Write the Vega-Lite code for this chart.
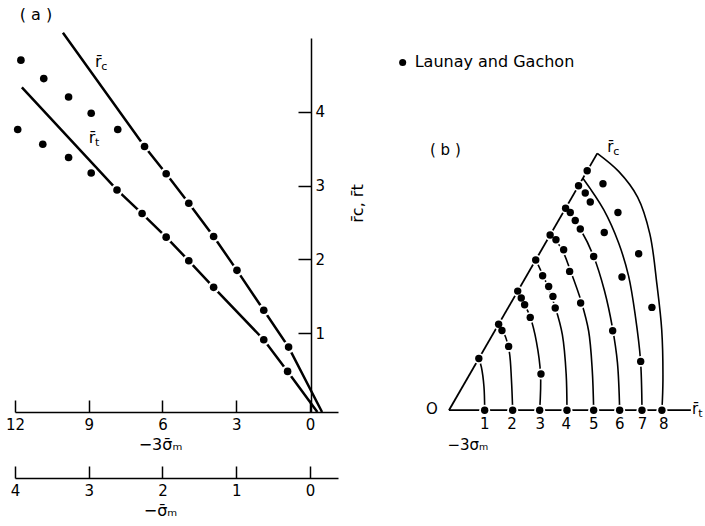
{
  "$schema": "https://vega.github.io/schema/vega-lite/v6.json",
  "padding": {"left": 5, "top": 7, "right": 0, "bottom": 0},
  "bounds": "flush",
  "spacing": 44,
  "config": {
    "view": {"stroke": null},
    "font": "DejaVu Sans",
    "text": {"font": "DejaVu Sans", "fontSize": 15, "color": "black"},
    "axis": {
      "domainColor": "black", "tickColor": "black", "labelColor": "black", "titleColor": "black",
      "domainWidth": 1.5, "tickWidth": 1.5, "grid": false,
      "labelFont": "DejaVu Sans", "titleFont": "DejaVu Sans",
      "labelFontSize": 15, "titleFontSize": 16, "titleFontWeight": "normal",
      "labelFlush": false, "labelOverlap": false
    }
  },
  "datasets": {
    "a_lines": [
      {"line": "c", "k": 0, "s3": 10.05, "r": 5.07},
      {"line": "c", "k": 1, "s3": 6.73, "r": 3.53},
      {"line": "c", "k": 2, "s3": 5.85, "r": 3.16},
      {"line": "c", "k": 3, "s3": 4.93, "r": 2.76},
      {"line": "c", "k": 4, "s3": 3.92, "r": 2.31},
      {"line": "c", "k": 5, "s3": 2.97, "r": 1.85},
      {"line": "c", "k": 6, "s3": 1.88, "r": 1.31},
      {"line": "c", "k": 7, "s3": 0.87, "r": 0.81},
      {"line": "c", "k": 8, "s3": -0.49, "r": -0.07},
      {"line": "t", "k": 0, "s3": 11.72, "r": 4.33},
      {"line": "t", "k": 1, "s3": 7.85, "r": 2.94},
      {"line": "t", "k": 2, "s3": 6.83, "r": 2.62},
      {"line": "t", "k": 3, "s3": 5.85, "r": 2.3},
      {"line": "t", "k": 4, "s3": 4.93, "r": 1.98},
      {"line": "t", "k": 5, "s3": 3.92, "r": 1.62},
      {"line": "t", "k": 6, "s3": 1.88, "r": 0.91},
      {"line": "t", "k": 7, "s3": 0.91, "r": 0.48},
      {"line": "t", "k": 8, "s3": -0.3, "r": -0.07}
    ],
    "a_dots": [
      {"meridian": "c", "s3": 6.73, "r": 3.53},
      {"meridian": "c", "s3": 5.85, "r": 3.16},
      {"meridian": "c", "s3": 4.93, "r": 2.76},
      {"meridian": "c", "s3": 3.92, "r": 2.31},
      {"meridian": "c", "s3": 2.97, "r": 1.85},
      {"meridian": "c", "s3": 1.88, "r": 1.31},
      {"meridian": "c", "s3": 0.87, "r": 0.81},
      {"meridian": "t", "s3": 7.85, "r": 2.94},
      {"meridian": "t", "s3": 6.83, "r": 2.62},
      {"meridian": "t", "s3": 5.85, "r": 2.3},
      {"meridian": "t", "s3": 4.93, "r": 1.98},
      {"meridian": "t", "s3": 3.92, "r": 1.62},
      {"meridian": "t", "s3": 1.88, "r": 0.91},
      {"meridian": "t", "s3": 0.91, "r": 0.48},
      {"meridian": "c", "s3": 11.76, "r": 4.7},
      {"meridian": "c", "s3": 10.83, "r": 4.45},
      {"meridian": "c", "s3": 9.82, "r": 4.2},
      {"meridian": "c", "s3": 8.9, "r": 3.98},
      {"meridian": "c", "s3": 7.82, "r": 3.76},
      {"meridian": "t", "s3": 11.89, "r": 3.76},
      {"meridian": "t", "s3": 10.87, "r": 3.56},
      {"meridian": "t", "s3": 9.82, "r": 3.38},
      {"meridian": "t", "s3": 8.9, "r": 3.17}
    ],
    "a_labels": [
      {"s3": 11.15, "r": 5.31, "main": "( a )", "sub": ""},
      {"s3": 8.61, "r": 4.68, "main": "r̄", "sub": "c"},
      {"s3": 8.87, "r": 3.64, "main": "r̄", "sub": "t"}
    ],
    "b_frame": [
      {"part": "edge", "k": 0, "x": 0, "y": 0},
      {"part": "edge", "k": 1, "x": 2.06, "y": 3.568},
      {"part": "axis", "k": 0, "x": 0, "y": 0},
      {"part": "axis", "k": 1, "x": 3.36, "y": 0}
    ],
    "b_curves": [
      {"n": 1, "k": 0, "x": 0.496, "y": 0},
      {"n": 1, "k": 1, "x": 0.486, "y": 0.33},
      {"n": 1, "k": 2, "x": 0.45, "y": 0.6},
      {"n": 1, "k": 3, "x": 0.415, "y": 0.719},
      {"n": 2, "k": 0, "x": 0.885, "y": 0},
      {"n": 2, "k": 1, "x": 0.868, "y": 0.42},
      {"n": 2, "k": 2, "x": 0.84, "y": 0.8},
      {"n": 2, "k": 3, "x": 0.785, "y": 1.02},
      {"n": 2, "k": 4, "x": 0.69, "y": 1.195},
      {"n": 3, "k": 0, "x": 1.26, "y": 0},
      {"n": 3, "k": 1, "x": 1.272, "y": 0.5},
      {"n": 3, "k": 2, "x": 1.215, "y": 0.95},
      {"n": 3, "k": 3, "x": 1.13, "y": 1.29},
      {"n": 3, "k": 4, "x": 1.05, "y": 1.47},
      {"n": 3, "k": 5, "x": 0.955, "y": 1.654},
      {"n": 4, "k": 0, "x": 1.639, "y": 0},
      {"n": 4, "k": 1, "x": 1.628, "y": 0.5},
      {"n": 4, "k": 2, "x": 1.575, "y": 1.05},
      {"n": 4, "k": 3, "x": 1.48, "y": 1.42},
      {"n": 4, "k": 4, "x": 1.36, "y": 1.75},
      {"n": 4, "k": 5, "x": 1.205, "y": 2.087},
      {"n": 5, "k": 0, "x": 2.01, "y": 0},
      {"n": 5, "k": 1, "x": 1.99, "y": 0.56},
      {"n": 5, "k": 2, "x": 1.94, "y": 1.1},
      {"n": 5, "k": 3, "x": 1.84, "y": 1.5},
      {"n": 5, "k": 4, "x": 1.69, "y": 1.93},
      {"n": 5, "k": 5, "x": 1.56, "y": 2.25},
      {"n": 5, "k": 6, "x": 1.405, "y": 2.433},
      {"n": 6, "k": 0, "x": 2.371, "y": 0},
      {"n": 6, "k": 1, "x": 2.34, "y": 0.66},
      {"n": 6, "k": 2, "x": 2.27, "y": 1.15},
      {"n": 6, "k": 3, "x": 2.16, "y": 1.66},
      {"n": 6, "k": 4, "x": 2.01, "y": 2.136},
      {"n": 6, "k": 5, "x": 1.824, "y": 2.517},
      {"n": 6, "k": 6, "x": 1.62, "y": 2.806},
      {"n": 7, "k": 0, "x": 2.681, "y": 0},
      {"n": 7, "k": 1, "x": 2.66, "y": 0.7},
      {"n": 7, "k": 2, "x": 2.59, "y": 1.3},
      {"n": 7, "k": 3, "x": 2.496, "y": 1.858},
      {"n": 7, "k": 4, "x": 2.357, "y": 2.322},
      {"n": 7, "k": 5, "x": 2.149, "y": 2.785},
      {"n": 7, "k": 6, "x": 1.86, "y": 3.222},
      {"n": 8, "k": 0, "x": 2.958, "y": 0},
      {"n": 8, "k": 1, "x": 2.972, "y": 0.42},
      {"n": 8, "k": 2, "x": 2.955, "y": 1.118},
      {"n": 8, "k": 3, "x": 2.889, "y": 1.743},
      {"n": 8, "k": 4, "x": 2.79, "y": 2.45},
      {"n": 8, "k": 5, "x": 2.62, "y": 2.96},
      {"n": 8, "k": 6, "x": 2.357, "y": 3.317},
      {"n": 8, "k": 7, "x": 2.06, "y": 3.568}
    ],
    "b_dots": [
      {"x": 0.496, "y": 0}, {"x": 0.885, "y": 0}, {"x": 1.26, "y": 0}, {"x": 1.639, "y": 0},
      {"x": 2.01, "y": 0}, {"x": 2.371, "y": 0}, {"x": 2.681, "y": 0}, {"x": 2.958, "y": 0},
      {"x": 0.415, "y": 0.719}, {"x": 0.69, "y": 1.195}, {"x": 0.955, "y": 1.654}, {"x": 1.205, "y": 2.087},
      {"x": 1.405, "y": 2.433}, {"x": 1.62, "y": 2.806}, {"x": 1.8, "y": 3.118}, {"x": 1.92, "y": 3.325},
      {"x": 0.736, "y": 1.108}, {"x": 0.829, "y": 0.886}, {"x": 1.004, "y": 1.558}, {"x": 1.051, "y": 1.465},
      {"x": 1.129, "y": 1.289}, {"x": 1.278, "y": 0.503}, {"x": 1.301, "y": 1.868}, {"x": 1.385, "y": 1.719},
      {"x": 1.444, "y": 1.581}, {"x": 1.476, "y": 1.419}, {"x": 1.486, "y": 2.368}, {"x": 1.593, "y": 2.229},
      {"x": 1.676, "y": 1.928}, {"x": 1.829, "y": 1.489}, {"x": 1.685, "y": 2.747}, {"x": 1.754, "y": 2.636},
      {"x": 1.824, "y": 2.517}, {"x": 2.01, "y": 2.136}, {"x": 2.274, "y": 1.104}, {"x": 1.893, "y": 3.017},
      {"x": 1.963, "y": 2.892}, {"x": 2.157, "y": 2.469}, {"x": 2.403, "y": 1.85}, {"x": 2.663, "y": 0.678},
      {"x": 2.139, "y": 3.146}, {"x": 2.347, "y": 2.747}, {"x": 2.635, "y": 2.174}, {"x": 2.819, "y": 1.428}
    ],
    "b_labels": [
      {"x": -0.05, "y": 3.62, "main": "( b )", "sub": ""},
      {"x": -0.236, "y": 0.02, "main": "O", "sub": ""},
      {"x": 0.264, "y": -0.479, "main": "−3σₘ", "sub": ""},
      {"x": 0.496, "y": -0.19, "main": "1", "sub": ""},
      {"x": 0.875, "y": -0.19, "main": "2", "sub": ""},
      {"x": 1.268, "y": -0.19, "main": "3", "sub": ""},
      {"x": 1.629, "y": -0.19, "main": "4", "sub": ""},
      {"x": 2.01, "y": -0.19, "main": "5", "sub": ""},
      {"x": 2.371, "y": -0.19, "main": "6", "sub": ""},
      {"x": 2.69, "y": -0.19, "main": "7", "sub": ""},
      {"x": 2.982, "y": -0.19, "main": "8", "sub": ""},
      {"x": 2.24, "y": 3.66, "main": "r̄", "sub": "c"},
      {"x": 3.42, "y": 0.01, "main": "r̄", "sub": "t"}
    ],
    "b_legend": [
      {"x": -0.643, "y": 4.83, "label": "Launay and Gachon"}
    ]
  },
  "hconcat": [
    {
      "width": 323,
      "height": 374,
      "resolve": {"axis": {"x": "independent"}},
      "layer": [
        {
          "data": {"name": "a_lines"},
          "mark": {"type": "line", "color": "black", "strokeWidth": 2.5},
          "encoding": {
            "x": {"field": "s3", "type": "quantitative",
                  "scale": {"domain": [-1.14, 12], "reverse": true, "nice": false, "zero": false},
                  "axis": {"title": "−3σ̄ₘ", "values": [0, 3, 6, 9, 12], "format": "d",
                           "tickSize": -12, "labelPadding": 17, "titlePadding": 4, "titleX": 145}},
            "y": {"field": "r", "type": "quantitative",
                  "scale": {"domain": [-0.07, 5], "nice": false, "zero": false},
                  "axis": {"orient": "right", "offset": -27, "values": [1, 2, 3, 4], "format": "d",
                           "tickSize": -13, "labelPadding": 17, "title": "r̄c, r̄t",
                           "titleAngle": 270, "titleX": 46, "titleY": 165,
                           "titleAlign": "center", "titleBaseline": "middle"}},
            "detail": {"field": "line"},
            "order": {"field": "k"}
          }
        },
        {
          "data": {"name": "a_dots"},
          "mark": {"type": "point", "filled": true, "color": "white", "opacity": 1, "size": 150},
          "encoding": {
            "x": {"field": "s3", "type": "quantitative", "axis": null},
            "y": {"field": "r", "type": "quantitative"}
          }
        },
        {
          "data": {"name": "a_dots"},
          "mark": {"type": "point", "filled": true, "color": "black", "opacity": 1, "size": 58},
          "encoding": {
            "x": {"field": "s3", "type": "quantitative",
                  "axis": {"orient": "bottom", "offset": 66, "title": "−σ̄ₘ", "values": [0, 3, 6, 9, 12],
                           "labelExpr": "'' + (datum.value / 3)",
                           "tickSize": -12, "labelPadding": 17, "titlePadding": 4, "titleX": 145}},
            "y": {"field": "r", "type": "quantitative"}
          }
        },
        {
          "data": {"name": "a_labels"},
          "mark": {"type": "text", "fontSize": 16},
          "encoding": {
            "x": {"field": "s3", "type": "quantitative", "axis": null},
            "y": {"field": "r", "type": "quantitative"},
            "text": {"field": "main"}
          }
        },
        {
          "data": {"name": "a_labels"},
          "mark": {"type": "text", "fontSize": 11, "align": "left", "dx": 3, "dy": 5},
          "encoding": {
            "x": {"field": "s3", "type": "quantitative", "axis": null},
            "y": {"field": "r", "type": "quantitative"},
            "text": {"field": "sub"}
          }
        }
      ]
    },
    {
      "width": 325,
      "height": 374,
      "encoding": {
        "x": {"field": "x", "type": "quantitative",
              "scale": {"domain": [-0.93, 3.584], "nice": false, "zero": false}, "axis": null},
        "y": {"field": "y", "type": "quantitative",
              "scale": {"domain": [-0.025, 5.17], "nice": false, "zero": false}, "axis": null}
      },
      "layer": [
        {
          "data": {"name": "b_frame"},
          "mark": {"type": "line", "color": "black", "strokeWidth": 1.8},
          "encoding": {"detail": {"field": "part"}, "order": {"field": "k"}}
        },
        {
          "data": {"name": "b_curves"},
          "mark": {"type": "line", "color": "black", "strokeWidth": 1.6, "interpolate": "catmull-rom"},
          "encoding": {"detail": {"field": "n"}, "order": {"field": "k"}}
        },
        {
          "data": {"name": "b_dots"},
          "mark": {"type": "point", "filled": true, "color": "white", "opacity": 1, "size": 120},
          "encoding": {}
        },
        {
          "data": {"name": "b_dots"},
          "mark": {"type": "point", "filled": true, "color": "black", "opacity": 1, "size": 55},
          "encoding": {}
        },
        {
          "data": {"name": "b_labels"},
          "mark": {"type": "text", "fontSize": 15},
          "encoding": {"text": {"field": "main"}}
        },
        {
          "data": {"name": "b_labels"},
          "mark": {"type": "text", "fontSize": 11, "align": "left", "dx": 3, "dy": 5},
          "encoding": {"text": {"field": "sub"}}
        },
        {
          "data": {"name": "b_legend"},
          "mark": {"type": "point", "filled": true, "color": "black", "opacity": 1, "size": 50},
          "encoding": {}
        },
        {
          "data": {"name": "b_legend"},
          "mark": {"type": "text", "fontSize": 16, "align": "left", "dx": 12},
          "encoding": {"text": {"field": "label"}}
        }
      ]
    }
  ]
}
